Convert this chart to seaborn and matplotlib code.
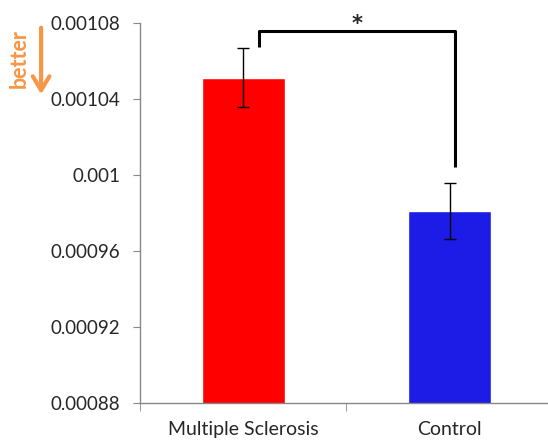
import matplotlib
matplotlib.use("Agg")
import matplotlib.pyplot as plt
import seaborn as sns
import pandas as pd

# data
groups = ["Multiple Sclerosis", "Control"]
means = [0.001051, 0.000981]
errors = [0.0000155, 0.0000146]
bar_colors = ["#FF0000", "#1C1CE6"]
y_ticks = [0.00088, 0.00092, 0.00096, 0.001, 0.00104, 0.00108]
y_tick_labels = ["0.00088", "0.00092", "0.00096", "0.001", "0.00104", "0.00108"]

df = pd.DataFrame({"group": groups, "value": means})

sns.set_style("white")
plt.rcParams["font.family"] = ["Lato", "DejaVu Sans"]

fig = plt.figure(figsize=(5.48, 4.45), dpi=100)
ax = fig.add_axes([0.2555, 0.095, 0.7535, 0.854])

sns.barplot(data=df, x="group", y="value", hue="group", palette=bar_colors,
            width=0.4, legend=False, ax=ax, errorbar=None, saturation=1)
ax.errorbar(range(len(groups)), means, yerr=errors, fmt="none",
            ecolor="black", elinewidth=1, capsize=4, capthick=1)

ax.set_ylim(0.00088, 0.00108)
ax.set_xlim(-0.5, 1.5)
ax.set_yticks(y_ticks)
ax.set_yticklabels(y_tick_labels, fontsize=13.5)
ax.set_xticks([0, 1])
ax.set_xticklabels(groups, fontsize=14)
ax.set_xlabel("")
ax.set_ylabel("")
ax.tick_params(axis="x", length=0, pad=13)
ax.tick_params(axis="y", length=5, color="#888888", direction="out", left=True, pad=9)
# ticks at category boundaries
ax.set_xticks([-0.5, 0.5], minor=True)
ax.tick_params(axis="x", which="minor", length=6, color="#888888", bottom=True, direction="out")

for s in ["top", "right"]:
    ax.spines[s].set_visible(False)
for s in ["left", "bottom"]:
    ax.spines[s].set_color("#888888")
    ax.spines[s].set_linewidth(1)

# significance bracket
bx = [0.075, 0.075, 1.027, 1.027]
by = [0.0010672, 0.0010756, 0.0010756, 0.0010041]
ax.plot(bx, by, color="black", lw=2.2, clip_on=False, solid_capstyle="butt")
ax.text(0.55, 0.0010795, "*", ha="center", va="center", fontsize=15,
        fontweight="bold", family="DejaVu Sans")

# "better" arrow
fig.text(0.0356, 0.869, "better", rotation=90, color="#F79646", fontsize=15.5,
         fontweight="bold", ha="center", va="center")
fig.patches.append(matplotlib.patches.FancyArrowPatch(
    (0.075, 0.944), (0.075, 0.782), transform=fig.transFigure,
    arrowstyle="->,head_length=10,head_width=6", color="#F79646", lw=3,
    mutation_scale=1))

fig.savefig("out.png", dpi=100)
